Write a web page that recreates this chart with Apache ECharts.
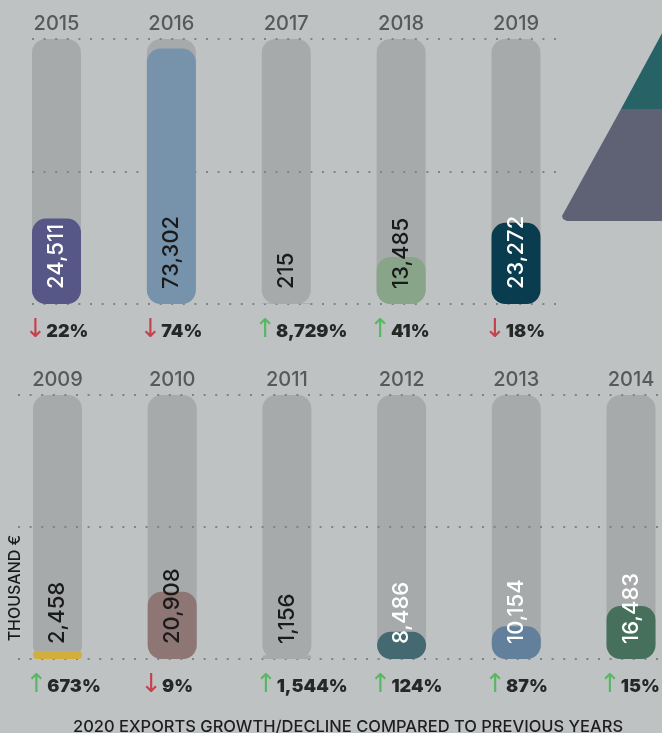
<!DOCTYPE html>
<html>
<head>
<meta charset="utf-8">
<script src="https://cdn.jsdelivr.net/npm/echarts@6/dist/echarts.min.js"></script>
<style>
  html, body { margin: 0; padding: 0; background: #bfc2c3; }
  #chart { width: 662px; height: 733px; }
</style>
</head>
<body>
<div id="chart"></div>
<script>
// values in thousand euro
const topYears = ['2015', '2016', '2017', '2018', '2019'];
const topValues = [24511, 73302, 215, 13485, 23272];
const topChange = [-22, -74, 8729, 41, -18];

const bottomYears = ['2009', '2010', '2011', '2012', '2013', '2014'];
const bottomValues = [2458, 20908, 1156, 8486, 10154, 16483];
const bottomChange = [673, -9, 1544, 124, 87, 15];

const topMax = 76000;
const topInterval = 38000;
const bottomMax = 82000;
const bottomInterval = 41000;

// styles
const topColors = ['#575787', '#7793ab', '#a7aaab', '#88a58a', '#0a3c50'];
const topLabelColors = ['#fff', '#1a1a1a', '#1a1a1a', '#1a1a1a', '#fff'];
const bottomColors = ['#d4ad3f', '#8e7674', '#a7aaab', '#456970', '#627f9b', '#47705c'];
const bottomLabelColors = ['#1a1a1a', '#1a1a1a', '#1a1a1a', '#fff', '#fff', '#fff'];

const FONT = 'Inter';
const TRACK = '#a7aaab';
const BAR_W = 49;
const RADIUS = 14;

const chart = echarts.init(document.getElementById('chart'));

function barData(values, colors, labelColors) {
  return values.map((v, i) => ({
    value: v,
    itemStyle: { color: colors[i] },
    label: { color: labelColors[i] }
  }));
}

function changeLabel(c) {
  const txt = Math.abs(c).toLocaleString('en-US') + '%';
  return (c >= 0 ? '{up|↑}' : '{down|↓}') + '{t|' + txt + '}';
}

function yearAxis(grid, years) {
  return {
    type: 'category',
    gridIndex: grid,
    position: 'top',
    boundaryGap: false,
    data: years,
    axisLine: { show: false },
    axisTick: { show: false },
    axisLabel: { fontFamily: FONT, fontSize: 20, fontWeight: 500, color: '#58595a', margin: 5 }
  };
}

function lineAxis(grid, max, interval) {
  return {
    type: 'value',
    gridIndex: grid,
    min: 0,
    max: max,
    interval: interval,
    z: 2,
    axisLine: { show: false },
    axisTick: { show: false },
    axisLabel: { show: false },
    splitLine: { lineStyle: { color: '#808384', width: 2, type: [2, 9.6] } }
  };
}

function panelSeries(axis, values, colors, labelColors, changes, max) {
  return [
    {
      type: 'bar',
      xAxisIndex: axis,
      yAxisIndex: axis,
      barWidth: BAR_W,
      barGap: '-100%',
      silent: true,
      z: 1,
      itemStyle: { color: TRACK, borderRadius: RADIUS },
      data: values.map(() => max)
    },
    {
      type: 'bar',
      xAxisIndex: axis,
      yAxisIndex: axis,
      barWidth: BAR_W,
      barGap: '-100%',
      z: 3,
      itemStyle: { borderRadius: RADIUS },
      label: {
        show: true,
        position: 'insideBottom',
        rotate: 90,
        align: 'left',
        verticalAlign: 'middle',
        distance: 15,
        fontFamily: FONT,
        fontSize: 22,
        fontWeight: 500,
        formatter: p => p.value.toLocaleString('en-US')
      },
      data: barData(values, colors, labelColors)
    },
    {
      type: 'scatter',
      xAxisIndex: axis,
      yAxisIndex: axis,
      symbolSize: 0,
      z: 4,
      itemStyle: { color: 'transparent' },
      label: {
        show: true,
        position: 'bottom',
        distance: 13,
        align: 'left',
        offset: [-32, 0],
        formatter: p => changeLabel(changes[p.dataIndex]),
        rich: {
          up: { fontFamily: 'DejaVu Sans', fontSize: 26, color: '#3fb44b', padding: [0, 0, 3, 0] },
          down: { fontFamily: 'DejaVu Sans', fontSize: 26, color: '#c8202f', padding: [0, 0, 3, 0] },
          t: { fontFamily: FONT, fontSize: 18, fontWeight: 900, color: '#000' }
        }
      },
      data: changes.map(() => 0)
    }
  ];
}

const option = {
  backgroundColor: '#bfc2c3',
  animation: false,
  title: {
    text: '2020 EXPORTS GROWTH/DECLINE COMPARED TO PREVIOUS YEARS',
    left: 68,
    top: 714,
    textStyle: { fontFamily: FONT, fontSize: 16.5, fontWeight: 500, color: '#1e1e1e' }
  },
  grid: [
    { left: 56.5, top: 39, width: 459.5, height: 265 },
    { left: 57.5, top: 395, width: 573.5, height: 264 },
    { left: 32, top: 39, width: 526, height: 265 },
    { left: 18, top: 395, width: 644, height: 264 }
  ],
  xAxis: [
    yearAxis(0, topYears),
    yearAxis(1, bottomYears),
    { type: 'value', gridIndex: 2, show: false, min: 0, max: 1 },
    { type: 'value', gridIndex: 3, show: false, min: 0, max: 1 }
  ],
  yAxis: [
    { type: 'value', gridIndex: 0, min: 0, max: topMax, interval: topInterval, show: false },
    { type: 'value', gridIndex: 1, min: 0, max: bottomMax, interval: bottomInterval, show: false },
    lineAxis(2, topMax, topInterval),
    lineAxis(3, bottomMax, bottomInterval)
  ],
  graphic: [
    {
      type: 'polygon',
      silent: true,
      shape: { points: [[621, 109], [680, 0], [700, 0], [700, 109]] },
      style: { fill: '#266266' }
    },
    {
      type: 'polygon',
      silent: true,
      shape: { points: [[621, 109], [700, 109], [700, 221], [567, 221], [563, 219], [562, 216]] },
      style: { fill: '#5f6175' }
    },
    {
      type: 'text',
      x: 15,
      y: 588,
      rotation: Math.PI / 2,
      style: {
        text: 'THOUSAND €',
        fontFamily: FONT,
        fontSize: 16,
        fontWeight: 500,
        fill: '#1a1a1a',
        textAlign: 'center',
        textVerticalAlign: 'middle'
      }
    }
  ],
  series: [
    ...panelSeries(0, topValues, topColors, topLabelColors, topChange, topMax),
    ...panelSeries(1, bottomValues, bottomColors, bottomLabelColors, bottomChange, bottomMax)
  ]
};

chart.setOption(option);
</script>
</body>
</html>
